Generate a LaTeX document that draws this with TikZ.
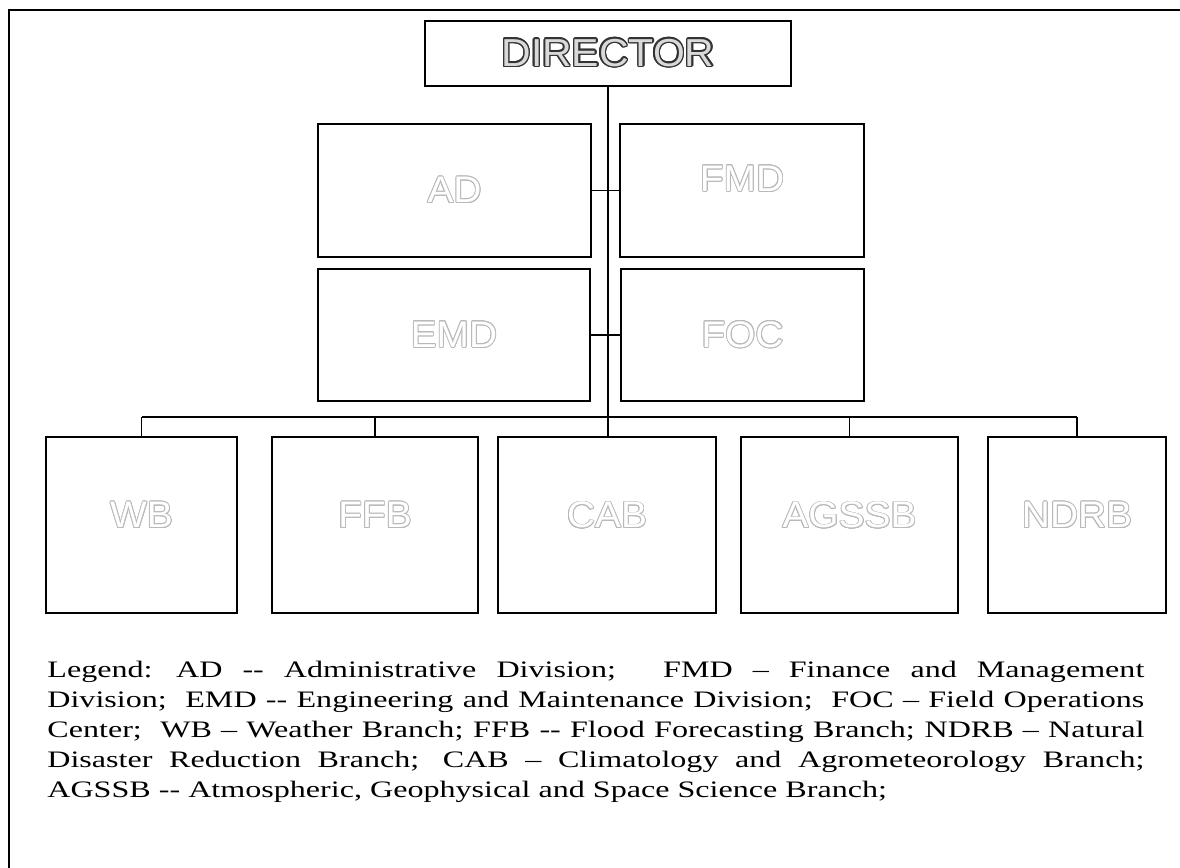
\documentclass[tikz,border=0pt]{standalone}
\usepackage{fontspec}
\usepackage{contour}
\setmainfont{Liberation Serif}
\newfontfamily\legendfont[FakeStretch=1.36]{Liberation Serif}
\newfontfamily\boxfont[FakeStretch=1.05]{Liberation Sans}
\contourlength{0.45pt}
\newcommand{\ghost}[1]{\contour{gray!55}{\textcolor{white}{#1}}}
\newcommand{\headtext}[1]{{\contourlength{0.7pt}\contour{black!80}{\textcolor{gray!30}{#1}}}}

\tikzset{
  unit/.style={draw, line width=0.8pt, inner sep=0pt, font=\boxfont\fontsize{18.5}{20}\selectfont},
  link/.style={line width=0.8pt},
}

\begin{document}
\begin{tikzpicture}[x=0.5pt,y=-0.5pt]
  \useasboundingbox (0,0) rectangle (1180,868);

  % Frame
  \draw[line width=1.1pt] (9,868) -- (9,10) -- (1180,10);

  % Director
  \node[unit, minimum width=183pt, minimum height=32.5pt, font=\boxfont\fontsize{19.5}{21}\selectfont] (dir) at (608,53.5) {\headtext{DIRECTOR}};

  % Divisions
  \node[unit, minimum width=136.5pt, minimum height=66.5pt] (ad) at (454.5,190.5) {\ghost{AD}};
  \node[unit, minimum width=122pt, minimum height=66.5pt] (fmd) at (742,190.5) {\raisebox{12pt}{\ghost{FMD}}};
  \node[unit, minimum width=136pt, minimum height=66pt] (emd) at (454,335) {\ghost{EMD}};
  \node[unit, minimum width=121.5pt, minimum height=66pt] (foc) at (742.5,335) {\ghost{FOC}};

  % Branches
  \foreach \name/\lbl/\cx/\w in {wb/WB/141.5/95.5, ffb/FFB/375/103, cab/CAB/607/109, agssb/AGSSB/849.5/108.5, ndrb/NDRB/1077/89}
    \node[unit, minimum width=\w pt, minimum height=88pt] (\name) at (\cx,525) {\raisebox{10pt}{\ghost{\lbl}}};

  % Connectors
  \draw[link] (dir.south) -- (dir.south |- cab.north);
  \draw[link] (ad.east) -- (fmd.west);
  \draw[link] (emd.east) -- (foc.west);
  \coordinate (bus) at (0,417);
  \draw[link] (wb.north |- bus) -- (ndrb.north |- bus);
  \foreach \name in {wb,ffb,agssb,ndrb}
    \draw[link] (\name.north) -- (\name.north |- bus);

  % Legend
  \node[anchor=north west, inner sep=0pt, text width=548.5pt, align=justify,
        font=\legendfont\fontsize{11.8}{15}\selectfont] (legend) at (47,661)
    {Legend:\quad AD -{}- Administrative Division;\qquad FMD – Finance and Management\linebreak
     Division;\ \ EMD -{}- Engineering and Maintenance Division;\ \ FOC – Field Operations\linebreak
     Center;\ \ WB – Weather Branch; FFB -{}- Flood Forecasting Branch; NDRB – Natural\linebreak
     Disaster Reduction Branch;\quad CAB – Climatology and Agrometeorology Branch;\linebreak
     AGSSB -{}- Atmospheric, Geophysical and Space Science Branch;};
\end{tikzpicture}
\end{document}
